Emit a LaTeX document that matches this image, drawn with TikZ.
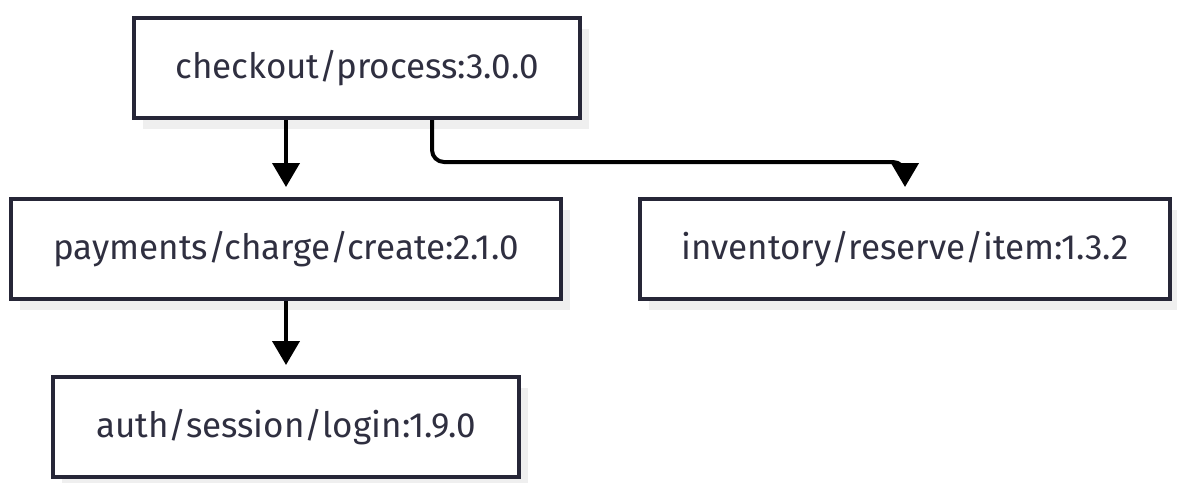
\documentclass[tikz,border=0pt]{standalone}
\usepackage{fontspec}
\setmainfont{Fira Sans}
\usetikzlibrary{arrows.meta,shadows,calc}
\definecolor{edgeink}{HTML}{262637}
\definecolor{textink}{HTML}{2F2F40}
\definecolor{shade}{HTML}{EFEFEF}
\tikzset{
  svc/.style={draw=edgeink, line width=4pt, fill=white, text=textink,
    minimum height=100pt, inner sep=0pt,
    font=\fontsize{35}{40}\selectfont,
    general shadow={fill=shade, shadow xshift=9pt, shadow yshift=-11pt}},
  dep/.style={draw=black, line width=4pt, rounded corners=12pt,
    -{Triangle[width=27pt,length=24pt]}, shorten >=10pt}
}
\begin{document}
\begin{tikzpicture}[x=1pt,y=-1pt]
\useasboundingbox (0,0) rectangle (1177,482);
\node[svc, minimum width=446pt] (checkout) at (357,68) {checkout/process:3.0.0};
\node[svc, minimum width=550pt] (payments) at (286,249) {payments/charge/create:2.1.0};
\node[svc, minimum width=530pt] (inventory) at (905,249) {inventory/reserve/item:1.3.2};
\node[svc, minimum width=466pt] (auth) at (286,427) {auth/session/login:1.9.0};
\coordinate (split) at ([xshift=75pt]checkout.south);
\draw[dep] (checkout.south -| payments.north) -- (payments.north);
\draw[dep] (payments.south) -- (auth.north);
\draw[dep] (split) -- ($(split)+(0,42)$) -| (inventory.north);
\end{tikzpicture}
\end{document}
